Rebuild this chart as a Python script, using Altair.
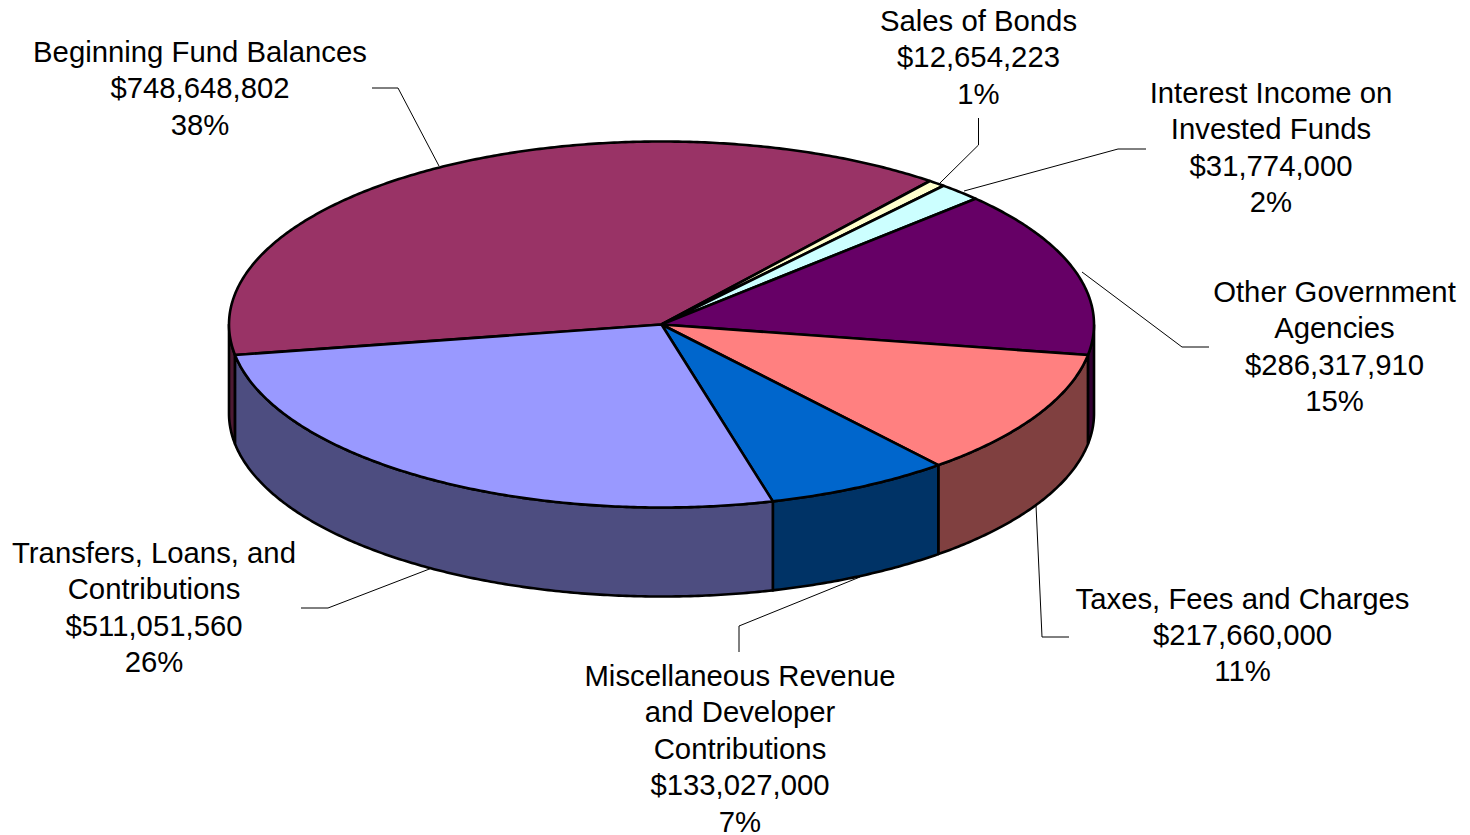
import math
import altair as alt
import pandas as pd

# --- chart values ---
categories = ["Beginning Fund Balances", "Sales of Bonds", "Interest Income on Invested Funds",
              "Other Government Agencies", "Taxes, Fees and Charges",
              "Miscellaneous Revenue and Developer Contributions", "Transfers, Loans, and Contributions"]
values = [748648802, 12654223, 31774000, 286317910, 217660000, 133027000, 511051560]
percents = ["38%", "1%", "2%", "15%", "11%", "7%", "26%"]
label_lines = [
    ["Beginning Fund Balances"],
    ["Sales of Bonds"],
    ["Interest Income on", "Invested Funds"],
    ["Other Government", "Agencies"],
    ["Taxes, Fees and Charges"],
    ["Miscellaneous Revenue", "and Developer", "Contributions"],
    ["Transfers, Loans, and", "Contributions"],
]
top_colors = ["#993366", "#FFFFCC", "#CCFFFF", "#660066", "#FF8080", "#0066CC", "#9999FF"]
wall_colors = ["#4D1A33", "#808066", "#668080", "#330033", "#804040", "#003366", "#4D4D80"]

# --- layout of the drawing (page pixels) ---
CX, CY, RX, RY, DEPTH = 661.5, 324.5, 432.5, 183.0, 89.0
START_DEG = 170.6
label_anchor = [(200, 53), (978.5, 22), (1271, 94), (1334.5, 293), (1242.5, 599.5), (740, 677), (154, 554)]
LINE_STEP = 36.45
leaders = [
    [(372, 88), (398, 88), (439, 166)],
    [(978.5, 118), (978.5, 145), (940, 183)],
    [(1146, 149), (1118, 149), (964, 191)],
    [(1209, 347), (1182, 347), (1082, 272)],
    [(1036, 505), (1042, 637), (1069, 637)],
    [(860, 577), (739, 626), (739, 652)],
    [(432, 568), (328, 608), (301, 608)],
]

total = sum(values)


def tilt(deg):
    # the original's 3-D projection bends the slice angles by about a degree
    return deg - 0.7 + 0.5 * math.cos(math.radians(deg - 170.0))


def pt(deg, dy=0.0):
    a = math.radians(deg)
    return CX + RX * math.cos(a), CY + RY * math.sin(a) + dy


def arc(a0, a1):
    n = max(2, int(abs(a1 - a0) * 2) + 1)
    return [a0 + (a1 - a0) * k / (n - 1) for k in range(n)]


tops, walls = [], []
running = 0.0
for idx, (name, v) in enumerate(zip(categories, values)):
    a0 = tilt(START_DEG + 360.0 * running / total)
    running += v
    a1 = tilt(START_DEG + 360.0 * running / total)
    poly = [(CX, CY)] + [pt(a) for a in arc(a0, a1)] + [(CX, CY)]
    for i, (x, y) in enumerate(poly):
        tops.append({"slice": name, "i": i, "x": x, "y": y})
    # the part of the rim facing the viewer: angles in 0..180 (mod 360)
    for lo, hi in ((a0, a1), (a0 - 360, a1 - 360)):
        s, e = max(lo, 0.0), min(hi, 180.0)
        if e > s:
            front = arc(s, e)
            ring = [pt(a) for a in front] + [pt(a, DEPTH) for a in reversed(front)]
            ring.append(ring[0])
            for i, (x, y) in enumerate(ring):
                walls.append({"slice": name, "i": i, "x": x, "y": y})

text_rows = []
for idx, name in enumerate(categories):
    lines = label_lines[idx] + [f"${values[idx]:,}", percents[idx]]
    ax, ay = label_anchor[idx]
    for k, line in enumerate(lines):
        text_rows.append({"x": ax, "y": ay + k * LINE_STEP, "t": line})

leader_rows = []
for idx, path in enumerate(leaders):
    for i, (x, y) in enumerate(path):
        leader_rows.append({"slice": categories[idx], "i": i, "x": x, "y": y})

W, H = 1454, 826
X = alt.X("x:Q", axis=None, scale=alt.Scale(domain=[8, 8 + W], range=[0, W], nice=False, zero=False))
Y = alt.Y("y:Q", axis=None, scale=alt.Scale(domain=[8, 8 + H], range=[0, H], nice=False, zero=False))


def filled(rows, colors):
    return alt.Chart(pd.DataFrame(rows)).mark_line(
        stroke="#000000", strokeWidth=2.6, strokeJoin="round"
    ).encode(
        x=X, y=Y, order=alt.Order("i:Q"),
        fill=alt.Fill("slice:N", legend=None,
                      scale=alt.Scale(domain=categories, range=colors)),
    )


leader_layer = alt.Chart(pd.DataFrame(leader_rows)).mark_line(
    stroke="#000000", strokeWidth=1
).encode(x=X, y=Y, detail="slice:N", order=alt.Order("i:Q"))

text_layer = alt.Chart(pd.DataFrame(text_rows)).mark_text(
    font="Liberation Sans", fontSize=29.3, color="#000000", align="center", baseline="middle"
).encode(x=X, y=Y, text="t:N")

chart = alt.layer(
    leader_layer, filled(walls, wall_colors), filled(tops, top_colors), text_layer
).resolve_scale(fill="independent").properties(
    width=W, height=H, padding=0, autosize=alt.AutoSizeParams(type="none"), background="#ffffff"
).configure_view(stroke=None)

chart.save("out.html", embed_options={"renderer": "svg", "actions": False})
